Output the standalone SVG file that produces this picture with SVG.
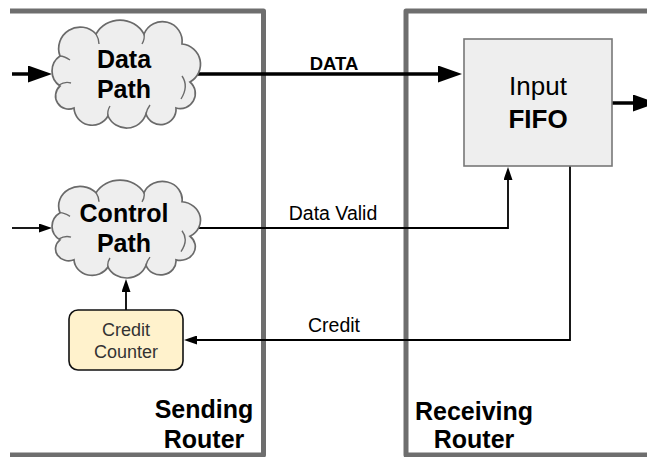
<svg xmlns="http://www.w3.org/2000/svg" xmlns:xlink="http://www.w3.org/1999/xlink" width="647" height="457" viewBox="0 0 647 457">
  <style>
    .router { fill: none; stroke: #6e6e6e; stroke-width: 5; stroke-linejoin: round; }
    .cloud { fill: #eeeeee; stroke: #6a6a6a; stroke-width: 1.7; }
    .cloud-inner { fill: none; stroke: #6a6a6a; stroke-width: 1.4; }
    .thick { fill: none; stroke: #000; stroke-width: 3.5; }
    .thin { fill: none; stroke: #000; stroke-width: 1.8; }
    .fifo { fill: #eeeeee; stroke: #777777; stroke-width: 1.6; }
    .counter { fill: #fff2cc; stroke: #111111; stroke-width: 1.6; }
    text { font-family: "Liberation Sans", Arial, sans-serif; text-anchor: middle; fill: #000; }
    .big { font-size: 25px; font-weight: bold; }
    .fifo-label { font-size: 26px; }
    .wire-label { font-size: 19.5px; }
    .data-label { font-size: 18.5px; font-weight: bold; }
    .small { font-size: 18px; fill: #333333; }
  </style>
  <defs>
    <marker id="ah-big" markerUnits="userSpaceOnUse" markerWidth="24" markerHeight="17" refX="1" refY="8.5" orient="auto">
      <path d="M0,0 L24,8.5 L0,17 Z" fill="#000"/>
    </marker>
    <marker id="ah-small" markerUnits="userSpaceOnUse" markerWidth="13" markerHeight="9" refX="1" refY="4.5" orient="auto">
      <path d="M0,0 L13,4.5 L0,9 Z" fill="#000"/>
    </marker>
    <!-- cloud outline in a 148 x 108 box, plus the short inner strokes between lobes -->
    <g id="cloud">
      <path class="cloud" vector-effect="non-scaling-stroke" d="M8,36 A21.5,21.5 0 0 1 44,14 A27.6,27.6 0 0 1 92,14 A19.8,19.8 0 0 1 130,24 A20.3,20.3 0 0 1 138,62 A15.1,15.1 0 0 1 124,88 A15.4,15.4 0 0 1 94,94 A20.4,20.4 0 0 1 56,96 A18.2,18.2 0 0 1 22,88 A13.2,13.2 0 0 1 8,66 A18.1,18.1 0 0 1 8,36 Z"/>
      <path class="cloud-inner" vector-effect="non-scaling-stroke" d="M7,65 Q13,61 19,63 M44,14 Q47,19 47,24 M92,14 Q93,19 90,24 M130,56 Q137,66 129,79 M94,94 Q95,89 98,85 M56,96 Q55,91 58,86 M18,40 Q12,36 8,36"/>
    </g>
  </defs>

  <!-- router outlines -->
  <g id="sending-router">
    <path class="router" d="M10,11 H263.5 V455 H10"/>
    <text class="big" x="204" y="418">Sending</text>
    <text class="big" x="204" y="448">Router</text>
  </g>
  <g id="receiving-router">
    <path class="router" d="M650,11 H406 V455 H650"/>
    <text class="big" x="474" y="420">Receiving</text>
    <text class="big" x="474" y="448">Router</text>
  </g>

  <!-- wires -->
  <g id="connectors">
    <path class="thick" d="M12,74 H29" marker-end="url(#ah-big)"/>
    <path class="thick" d="M160,74 H439" marker-end="url(#ah-big)"/>
    <path class="thick" d="M612,103 H634" marker-end="url(#ah-big)"/>
    <path class="thin" d="M12,228 H40" marker-end="url(#ah-small)"/>
    <path class="thin" d="M160,228 H508 V179" marker-end="url(#ah-small)"/>
    <path class="thin" d="M570,166 V340 H196" marker-end="url(#ah-small)"/>
    <path class="thin" d="M126,310 V291" marker-end="url(#ah-small)"/>
    <text class="data-label" x="334" y="70">DATA</text>
    <text class="wire-label" x="333" y="220">Data Valid</text>
    <text class="wire-label" x="334" y="332">Credit</text>
  </g>

  <g id="data-path">
    <use xlink:href="#cloud" transform="translate(52,20)"/>
    <text class="big" x="124" y="68">Data</text>
    <text class="big" x="124" y="98">Path</text>
  </g>

  <g id="control-path">
    <use xlink:href="#cloud" transform="translate(52,180) scale(1,0.907)"/>
    <text class="big" x="124" y="222">Control</text>
    <text class="big" x="124" y="252">Path</text>
  </g>

  <g id="credit-counter">
    <rect class="counter" x="69" y="310" width="114" height="60" rx="9"/>
    <text class="small" x="126" y="336">Credit</text>
    <text class="small" x="126" y="358">Counter</text>
  </g>

  <g id="input-fifo">
    <rect class="fifo" x="464" y="39" width="148" height="127"/>
    <text class="fifo-label" x="538" y="95">Input</text>
    <text class="fifo-label" x="538" y="128" font-weight="bold">FIFO</text>
  </g>
</svg>
